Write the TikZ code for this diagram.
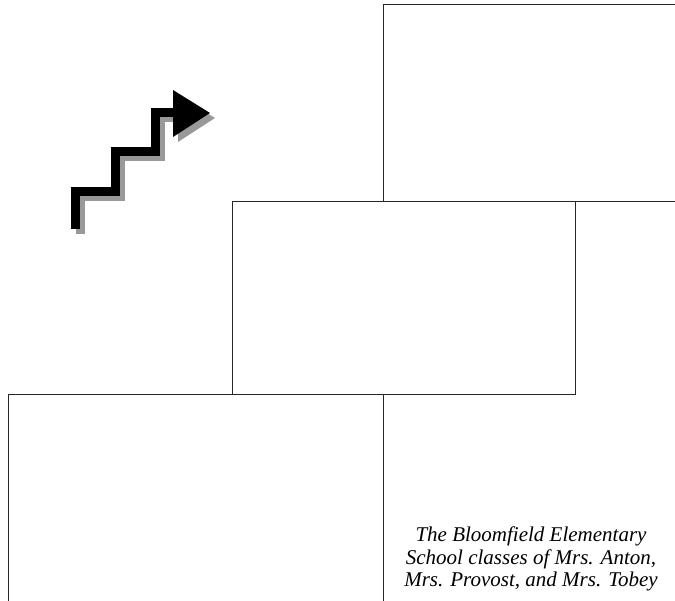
\documentclass[tikz,border=0pt]{standalone}
\usepackage{fontspec}
\setmainfont{Liberation Serif}
\usetikzlibrary{positioning,calc}

\begin{document}
\begin{tikzpicture}[
        x=1pt, y=-1pt,
        panel/.style={draw=black!85, line width=1pt},
        stairline/.style={line width=9pt, line cap=butt, line join=miter},
        caption/.style={font=\itshape\fontsize{21}{22.5}\selectfont, align=center}
    ]
        \useasboundingbox (0,0) rectangle (675,601);

        % Panels
        \draw[panel] (383,5) rectangle (690,202);
        \draw[panel] (232,202) rectangle (575,395);
        \draw[panel] (8,395) rectangle (383,620);

        % Stair arrow: shadow first
        \begin{scope}[shift={(5,5)}, gray!80]
            \draw[stairline] (75,229) |- (115,192) |- (155,152) |- (174,113);
            \fill (173,90) -- (210,113) -- (173,137) -- cycle;
        \end{scope}
        \draw[stairline] (75,229) |- (115,192) |- (155,152) |- (174,113);
        \fill (173,90) -- (210,113) -- (173,137) -- cycle;

        % Caption
        \node[caption] (credit) at (531,559)
            {The Bloomfield Elementary\\School classes of Mrs. Anton,\\Mrs. Provost, and Mrs. Tobey};
    \end{tikzpicture}
\end{document}
